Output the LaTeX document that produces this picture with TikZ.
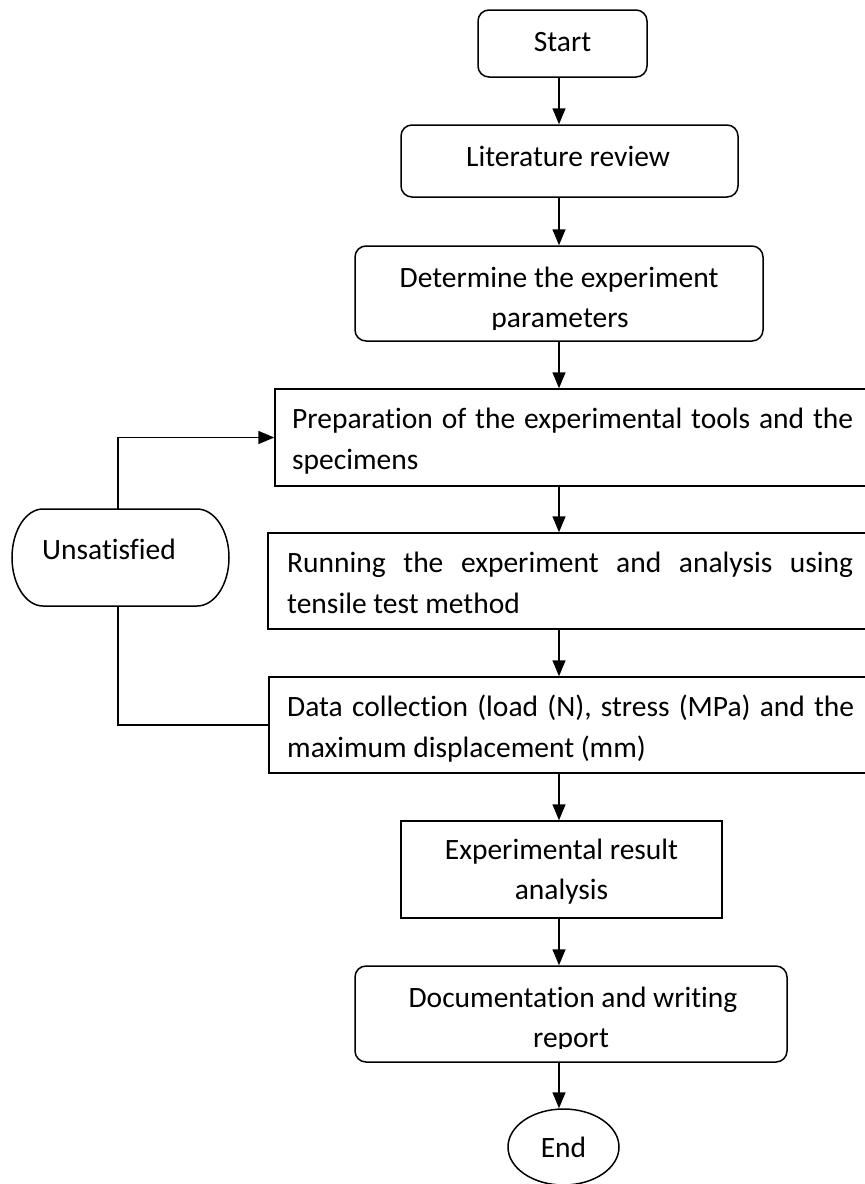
\documentclass[tikz,border=0pt]{standalone}
\usepackage{fontspec}
\setmainfont{Carlito}[Ligatures={NoCommon}]
\usetikzlibrary{arrows.meta,shapes.geometric}
\tikzset{
  boxs/.style={draw, line width=1.5pt, inner sep=0pt, rectangle},
  rbox/.style={boxs, rounded corners=11pt},
  txt/.style={inner sep=0pt, anchor=base, font=\fontsize{29.5}{40}\selectfont},
  arr/.style={line width=1.5pt, -{Triangle[length=16pt,width=13pt]}},
  ln/.style={line width=1.5pt}
}
\begin{document}
\begin{tikzpicture}[x=1pt,y=-1pt]
\useasboundingbox (0,0) rectangle (865,1184);
\clip (0,0) rectangle (865,1184);
\coordinate (ax) at (559,0);
% boxes
\node[rbox, minimum width=169pt, minimum height=67pt] (start) at (562.5,43.5) {};
\node[rbox, minimum width=337pt, minimum height=72pt] (lit) at (569.5,161) {};
\node[rbox, minimum width=408pt, minimum height=95pt] (det) at (559,293.5) {};
\node[boxs, minimum width=597pt, minimum height=97pt] (prep) at (573.5,437.5) {};
\node[boxs, minimum width=604pt, minimum height=96pt] (run) at (570,581) {};
\node[boxs, minimum width=603pt, minimum height=96pt] (data) at (570.5,725) {};
\node[boxs, minimum width=321pt, minimum height=97pt] (exp) at (561.5,869.5) {};
\node[rbox, minimum width=432pt, minimum height=96pt] (doc) at (571,1014) {};
\node[draw, ellipse, line width=1.5pt, minimum width=111pt, minimum height=76pt, inner sep=0pt] (end) at (563.5,1147) {};
\node[minimum width=217pt, minimum height=97pt, inner sep=0pt] (unsat) at (118,557.5) {};
\draw[ln] (43,509) -- (197,509) arc[start angle=90,end angle=-90,x radius=32pt,y radius=48.5pt]
  -- (43,606) arc[start angle=270,end angle=90,x radius=31pt,y radius=48.5pt] -- cycle;
% texts
\node[txt] (tstart) at (562.5,51) {Start};
\node[txt] (tlit) at (568,166) {Literature review};
\node[txt] (tdet1) at (559,287) {Determine the experiment};
\begin{scope}
\clip (360,300) rectangle (760,329.5);
\node[txt] (tdet2) at (560,327) {parameters};
\end{scope}
\node[txt, anchor=base west] (tprep1) at (292,428) {\makebox[561pt][s]{Preparation of the experimental tools and the}};
\node[txt, anchor=base west] (tprep2) at (292,469) {specimens};
\node[txt, anchor=base west] (trun1) at (287,572) {\makebox[566pt][s]{Running the experiment and analysis using}};
\node[txt, anchor=base west] (trun2) at (287,613) {tensile test method};
\node[txt, anchor=base west] (tdata1) at (287,716) {\makebox[567pt][s]{Data collection (load (N), stress (MPa) and the}};
\node[txt, anchor=base west] (tdata2) at (287,757) {maximum displacement (mm)};
\node[txt] (texp1) at (561.5,859) {Experimental result};
\node[txt] (texp2) at (561.5,899) {analysis};
\node[txt] (tdoc1) at (573,1007) {Documentation and writing};
\begin{scope}
\clip (360,1020) rectangle (780,1048.5);
\node[txt] (tdoc2) at (571,1047) {report};
\end{scope}
\node[txt] (tend) at (563.5,1157) {End};
\node[txt, anchor=base west] (tunsat) at (42,559) {Unsatisfied};
% connectors
\draw[arr] (start.south -| ax) -- (lit.north -| ax);
\draw[arr] (lit.south -| ax) -- (det.north -| ax);
\draw[arr] (det.south -| ax) -- (prep.north -| ax);
\draw[arr] (prep.south -| ax) -- (run.north -| ax);
\draw[arr] (run.south -| ax) -- (data.north -| ax);
\draw[arr] (data.south -| ax) -- (exp.north -| ax);
\draw[arr] (exp.south -| ax) -- (doc.north -| ax);
\draw[arr] (doc.south -| ax) -- (end.north -| ax);
\draw[arr] (unsat.north) |- (prep.west);
\draw[ln] (unsat.south) |- (data.west);
\end{tikzpicture}
\end{document}
